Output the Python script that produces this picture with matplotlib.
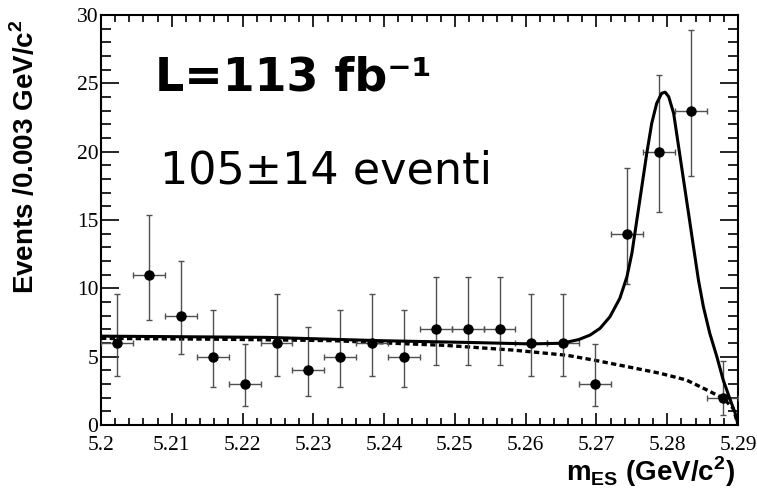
import matplotlib
matplotlib.use("Agg")
import matplotlib.pyplot as plt
import matplotlib.ticker as mticker

# ── data ────────────────────────────────────────────────────────────────────
bin_centres = [5.2023, 5.2068, 5.2113, 5.2158, 5.2203, 5.2248, 5.2293, 5.2338,
               5.2383, 5.2428, 5.2473, 5.2518, 5.2563, 5.2608, 5.2653, 5.2698,
               5.2743, 5.2788, 5.2833, 5.2878]
counts = [6, 11, 8, 5, 3, 6, 4, 5, 6, 5, 7, 7, 7, 6, 6, 3, 14, 20, 23, 2]
err_lo = [2.4, 3.3, 2.8, 2.2, 1.6, 2.4, 1.9, 2.2, 2.4, 2.2,
          2.6, 2.6, 2.6, 2.4, 2.4, 1.6, 3.7, 4.4, 4.8, 1.3]
err_hi = [3.6, 4.4, 4.0, 3.4, 2.9, 3.6, 3.2, 3.4, 3.6, 3.4,
          3.8, 3.8, 3.8, 3.6, 3.6, 2.9, 4.8, 5.6, 5.9, 2.7]
bin_half = [0.00225] * len(bin_centres)

# total fit (signal + background), read point by point
fit_x = [5.2000, 5.2234, 5.2394, 5.2535, 5.2606, 5.2651, 5.2675, 5.2691,
         5.2705, 5.2719, 5.2733, 5.2743, 5.2750, 5.2757, 5.2764, 5.2771,
         5.2778, 5.2785, 5.2792, 5.2797, 5.2802, 5.2809, 5.2816, 5.2823,
         5.2830, 5.2837, 5.2844, 5.2851, 5.2860, 5.2870, 5.2879, 5.2889,
         5.2896, 5.2900]
fit_y = [6.50, 6.41, 6.17, 6.02, 5.93, 5.98, 6.25, 6.58,
         7.07, 7.92, 9.27, 10.85, 12.56, 15.00, 17.43, 19.87,
         22.07, 23.53, 24.27, 24.35, 24.02, 22.80, 20.36, 17.92,
         15.49, 13.04, 10.61, 8.65, 6.71, 5.00, 3.29, 1.83,
         0.85, 0.00]

# background (ARGUS-like) component
bkg_x = [5.2000, 5.2175, 5.2328, 5.2394, 5.2488, 5.2582, 5.2658, 5.2696,
         5.2743, 5.2790, 5.2827, 5.2856, 5.2879, 5.2893, 5.2900]
bkg_y = [6.34, 6.27, 6.17, 6.02, 5.82, 5.48, 5.10, 4.75,
         4.27, 3.78, 3.29, 2.56, 1.95, 1.22, 0.00]

x_ticks = [5.20, 5.21, 5.22, 5.23, 5.24, 5.25, 5.26, 5.27, 5.28, 5.29]
y_ticks = [0, 5, 10, 15, 20, 25, 30]

plt.rcParams["mathtext.fontset"] = "custom"
plt.rcParams["mathtext.bf"] = "Liberation Sans:bold"
plt.rcParams["mathtext.rm"] = "Liberation Sans:bold"

fig = plt.figure(figsize=(7.57, 4.93), dpi=100)
ax = fig.add_axes([0.1334, 0.138, 0.8416, 0.8316])

ax.errorbar(bin_centres, counts, xerr=bin_half, yerr=[err_lo, err_hi],
            fmt="o", color="black", ms=6.5, ecolor="#505050", elinewidth=1.0,
            capsize=2.5, capthick=1.0, zorder=3)
ax.plot(bkg_x, bkg_y, color="black", lw=2.4, ls=(0, (1.6, 1.0)), zorder=2)
ax.plot(fit_x, fit_y, color="black", lw=2.2, zorder=4, solid_joinstyle="round")

ax.set_xlim(5.2, 5.29)
ax.set_ylim(0, 30)
ax.set_xticks(x_ticks)
ax.set_yticks(y_ticks)
ax.xaxis.set_minor_locator(mticker.MultipleLocator(0.002))
ax.yaxis.set_minor_locator(mticker.MultipleLocator(1))
ax.xaxis.set_major_formatter(mticker.FuncFormatter(lambda v, p: "%g" % round(v, 3)))

ax.tick_params(which="both", direction="in", top=True, right=True, width=1.2,
               labelsize=15.5)
ax.tick_params(axis="x", which="major", length=8.6, pad=8)
ax.tick_params(axis="x", which="minor", length=4.7)
ax.tick_params(axis="y", which="major", length=13, pad=2)
ax.tick_params(axis="y", which="minor", length=7)
for lab in ax.get_xticklabels() + ax.get_yticklabels():
    lab.set_family("Liberation Serif")
for sp in ax.spines.values():
    sp.set_linewidth(1.5)

ax.set_ylabel(r"Events /0.003 GeV/c$^{\mathbf{2}}$", fontsize=20,
              fontweight="bold", family="Liberation Sans", loc="top")
ax.yaxis.set_label_coords(-0.096, 0.99)
ax.set_xlabel(r"m$_{\mathbf{ES}}$ (GeV/c$^{\mathbf{2}}$)", fontsize=20,
              fontweight="bold", family="Liberation Sans", loc="right")
ax.xaxis.set_label_coords(0.995, -0.073)

ax.text(5.2076, 24.5, "L=113 fb\u207b\u00b9", fontsize=33, fontweight="bold",
        family="DejaVu Sans", va="baseline", ha="left")
ax.text(5.2083, 17.7, "105\u00b114 eventi", fontsize=32,
        family="DejaVu Sans", va="baseline", ha="left")

fig.savefig("out.png", dpi=100)
